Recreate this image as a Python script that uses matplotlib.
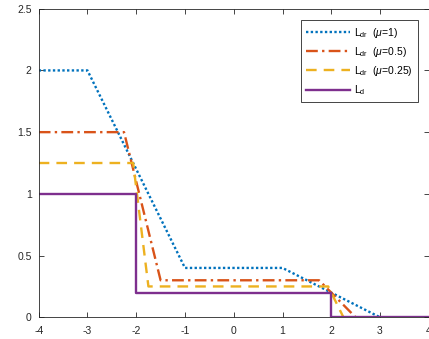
import matplotlib
matplotlib.use("Agg")
import matplotlib.pyplot as plt

plt.rcParams['font.family'] = ['Liberation Sans', 'DejaVu Sans']
plt.rcParams['mathtext.fontset'] = 'custom'
plt.rcParams['mathtext.rm'] = 'Liberation Sans'
plt.rcParams['mathtext.it'] = 'Liberation Sans:italic'

# Data (breakpoints)
x_mu1 = [-4, -3, -1, 1, 3, 4]
y_mu1 = [2, 2, 0.4, 0.4, 0, 0]
x_mu05 = [-4, -2.25, -1.5, 1.75, 2.5, 4]
y_mu05 = [1.5, 1.5, 0.3, 0.3, 0, 0]
x_mu025 = [-4, -2.0625, -1.75, 1.9375, 2.25, 4]
y_mu025 = [1.25, 1.25, 0.25, 0.25, 0, 0]
x_ld = [-4, -2, -2, 2, 2, 4]
y_ld = [1, 1, 0.2, 0.2, 0, 0]

labels = [r'L$_{\rm dr}$  ($\mu$=1)', r'L$_{\rm dr}$  ($\mu$=0.5)',
          r'L$_{\rm dr}$  ($\mu$=0.25)', r'L$_{\rm d}$']
xticks = [-4, -3, -2, -1, 0, 1, 2, 3, 4]
yticks = [0, 0.5, 1, 1.5, 2, 2.5]

fig = plt.figure(figsize=(4.29, 3.39), dpi=100)
ax = fig.add_axes([0.0902, 0.064, 0.9093, 0.9103])

lw = 1.7
ax.plot(x_mu1, y_mu1, color='#0072BD', lw=lw, linestyle=(0, (1, 1)), label=labels[0])
ax.plot(x_mu05, y_mu05, color='#D95319', lw=lw, linestyle=(0, (5, 1.8, 1, 1.8)), label=labels[1])
ax.plot(x_mu025, y_mu025, color='#EDB120', lw=lw, linestyle=(0, (4.5, 3)), label=labels[2])
ax.plot(x_ld, y_ld, color='#7E2F8E', lw=lw, linestyle='-', label=labels[3])

ax.set_xlim(-4, 4)
ax.set_ylim(0, 2.5)
ax.set_xticks(xticks)
ax.set_yticks(yticks)
ax.set_xticklabels([str(t) for t in xticks])
ax.set_yticklabels(['0', '0.5', '1', '1.5', '2', '2.5'])
ax.tick_params(direction='in', length=3.5, width=0.6, colors='#262626',
               labelsize=7.5, top=True, right=True)
ax.tick_params(axis='x', pad=6)
ax.tick_params(axis='y', pad=5)
for s in ax.spines.values():
    s.set_color('#262626')
    s.set_linewidth(0.6)

leg = ax.legend(loc='upper right', bbox_to_anchor=(0.972, 0.962), fontsize=7.5,
                fancybox=False, framealpha=1, edgecolor='#262626',
                handlelength=4.2, handletextpad=0.4, labelspacing=0.5,
                borderpad=0.5, borderaxespad=0)
leg.get_frame().set_linewidth(0.6)

fig.savefig('out.png', dpi=100)
